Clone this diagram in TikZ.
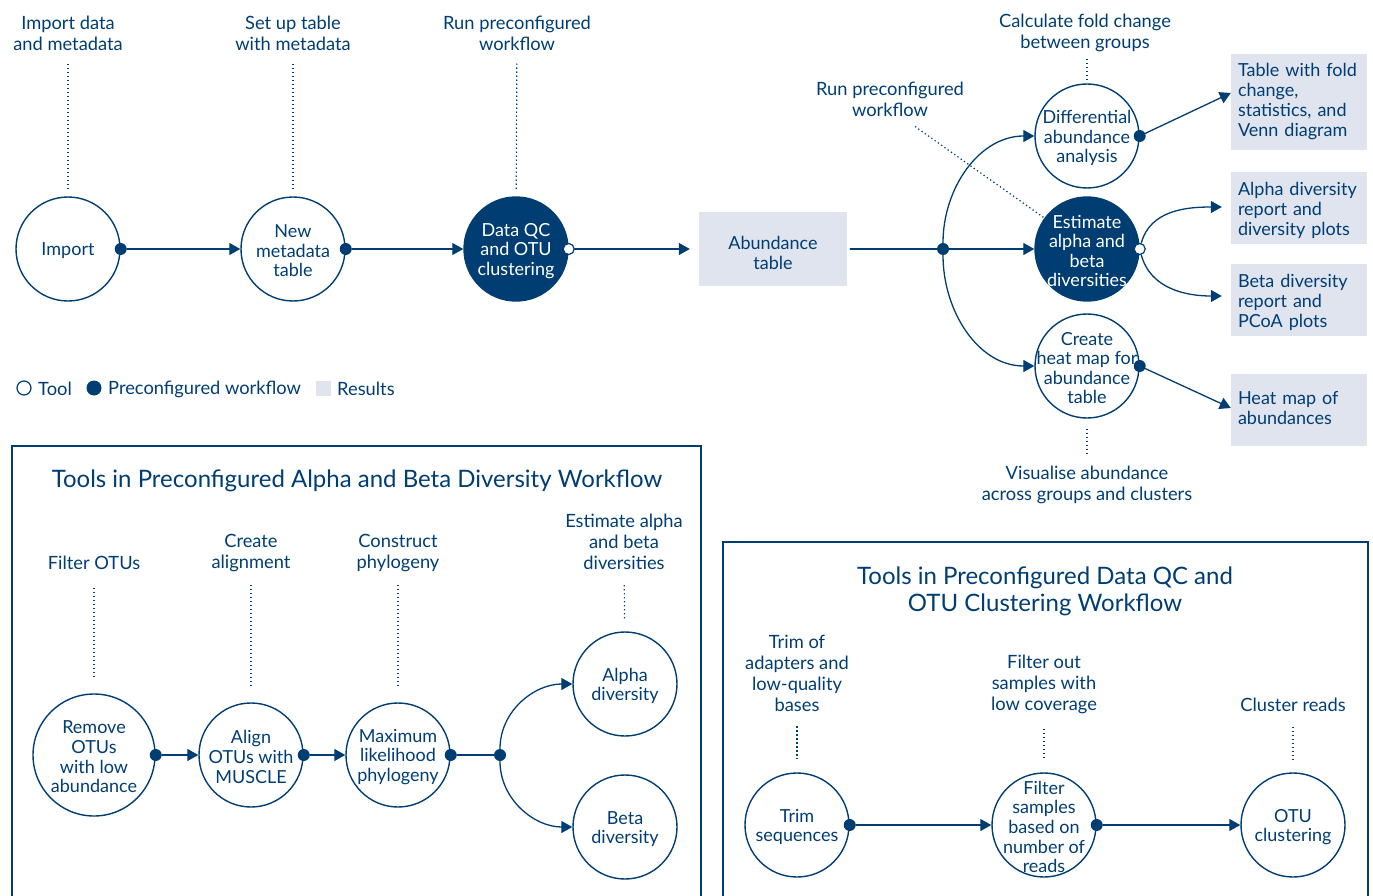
\documentclass[tikz,border=0pt]{standalone}
\usepackage{fontspec}
\setmainfont{Lato}
\usetikzlibrary{arrows.meta}

\definecolor{navy}{HTML}{003D73}
\definecolor{resultgrey}{HTML}{E0E4EF}

\newcommand{\lblfont}{\fontsize{18}{19.6}\selectfont}
\newcommand{\captionfont}{\fontsize{18.3}{21}\selectfont}
\newcommand{\titlefont}{\fontsize{24}{27}\selectfont}

\tikzset{
  tooltext/.style={align=center, font=\lblfont, text=navy, inner sep=0pt, yshift=-2pt},
  tool/.style={circle, draw=navy, line width=1.4pt, minimum size=104pt, inner sep=0pt,
    label={[tooltext]center:#1}},
  workflow/.style={circle, draw=navy, fill=navy, line width=1.4pt, minimum size=104pt, inner sep=0pt,
    label={[tooltext, text=white]center:#1}},
  outdot/.style={circle, fill=navy, minimum size=12pt, inner sep=0pt},
  opendot/.style={circle, draw=navy, fill=white, line width=1.2pt, minimum size=11pt, inner sep=0pt},
  result/.style={fill=resultgrey, text=navy, font=\fontsize{18}{20}\selectfont, align=left,
    text width=122pt, inner xsep=7pt, inner ysep=0pt},
  caption/.style={align=center, font=\captionfont, text=navy, inner sep=1pt},
  heading/.style={align=center, font=\titlefont, text=navy, inner sep=1pt},
  link/.style={draw=navy, line width=1.3pt},
  flow/.style={link, -{Triangle[length=11pt, width=12pt]}},
  guide/.style={draw=navy, line width=1.2pt, dash pattern=on 1.3pt off 2.7pt, line cap=butt,
    shorten <=14pt, shorten >=13pt},
  panel/.style={draw=navy, line width=1.2pt},
}

\begin{document}
\begin{tikzpicture}[x=1pt, y=-1pt, line cap=round]
  \useasboundingbox (0,0) rectangle (1373,896);

  % import, metadata, QC
  \node[tool=Import] (import) at (68,249) {};
  \node[tool={New\\metadata\\table}] (newmeta) at (293,249) {};
  \node[workflow={Data QC\\and OTU\\clustering}] (dataqc) at (516,249) {};
  \node[outdot] (importdot) at (import.east) {};
  \node[outdot] (newmetadot) at (newmeta.east) {};
  \node[opendot] (dataqcdot) at (dataqc.east) {};
  \draw[flow] (importdot) -- (newmeta);
  \draw[flow] (newmetadot) -- (dataqc);

  \node[result, text width=134pt, align=center, minimum height=74pt, text depth=12pt] (abund) at (773,249) {Abundance\\table};
  \draw[flow, shorten >=9pt] (dataqcdot) -- (abund);

  % downstream analyses
  \node[tool={Differential\\abundance\\analysis}] (diff) at (1087,136) {};
  \node[workflow={Estimate\\alpha and\\beta\\diversities}] (estimate) at (1087,249) {};
  \node[tool={Create\\heat map for\\abundance\\table}] (heat) at (1087,366) {};
  \node[outdot] (split) at (943,249) {};
  \node[outdot] (diffdot) at (diff.east) {};
  \node[opendot] (estdot) at (estimate.east) {};
  \node[outdot] (heatdot) at (heat.east) {};
  \draw[link, shorten <=3pt] (abund) -- (split);
  \draw[flow] (split) -- (estimate);
  \draw[flow] (split) to[out=90, in=180] (diff.west);
  \draw[flow] (split) to[out=-90, in=180] (heat.west);

  % results
  \node[result, minimum height=96pt] (foldres) at (1299,102) {Table with fold\\change,\\statistics, and\\Venn diagram};
  \node[result, minimum height=72pt, text depth=38.5pt] (alphares) at (1299,208) {Alpha diversity\\report and\\diversity plots};
  \node[result, minimum height=72pt, text depth=38.5pt] (betares) at (1299,300) {Beta diversity\\report and\\PCoA plots};
  \node[result, minimum height=72pt, text depth=24pt] (heatres) at (1299,410) {Heat map of\\abundances};
  \draw[flow] (diffdot) -- ([yshift=9pt]foldres.west);
  \draw[flow] (estdot) to[out=75, in=180] ([xshift=-9pt, yshift=1pt]alphares.west);
  \draw[flow] (estdot) to[out=-75, in=180] ([xshift=-9pt, yshift=4pt]betares.west);
  \draw[flow] (heatdot) -- ([yshift=2pt]heatres.west);

  % step captions
  \node[caption] (lblimport) at (68,33) {Import data\\and metadata};
  \node[caption] (lblmeta) at (293,33) {Set up table\\with metadata};
  \node[caption] (lblqc) at (517,33) {Run preconfigured\\workflow};
  \node[caption] (lblfold) at (1085,33) {Calculate fold change\\between groups};
  \node[caption] (lblest) at (890,99) {Run preconfigured\\workflow};
  \node[caption] (lblvis) at (1087,485) {Visualise abundance\\across groups and clusters};
  \draw[guide, shorten <=12pt, shorten >=7pt] (lblimport) -- (import);
  \draw[guide, shorten <=12pt, shorten >=7pt] (lblmeta) -- (newmeta);
  \draw[guide, shorten <=12pt, shorten >=7pt] (lblqc) -- (dataqc);
  \draw[guide, shorten <=6pt, shorten >=4pt] (diff.north |- lblfold.south) -- (diff);
  \draw[guide, shorten <=0pt, shorten >=0pt] ([xshift=25pt, yshift=-9pt]lblest.south) -- (estimate.144);
  \draw[guide, shorten <=10pt, shorten >=10pt] (heat) -- (lblvis);

  % legend
  \node[opendot, minimum size=14pt] (legtool) at (24,388) {};
  \node[caption, anchor=west] (legtooltext) at (37,389) {Tool};
  \node[outdot, minimum size=15pt] (legwf) at (94,388) {};
  \node[caption, anchor=west] (legwftext) at (107,389) {Preconfigured workflow};
  \node[fill=resultgrey, minimum size=15pt, inner sep=0pt] (legres) at (323,388) {};
  \node[caption, anchor=west] (legrestext) at (336,389) {Results};

  % alpha and beta diversity panel
  \draw[panel] (12,896) |- (701,446) -- (701,896);
  \node[heading] (alphahead) at (357,481) {Tools in Preconfigured Alpha and Beta Diversity Workflow};
  \node[tool={Remove\\OTUs\\with low\\abundance}, minimum size=122pt] (remove) at (94,755) {};
  \node[tool={Align\\OTUs with\\MUSCLE}] (align) at (251,755) {};
  \node[tool={Maximum\\likelihood\\phylogeny}] (maxlik) at (398,755) {};
  \node[tool={Alpha\\diversity}] (alphadiv) at (625,684) {};
  \node[tool={Beta\\diversity}] (betadiv) at (625,827) {};
  \node[outdot] (removedot) at (remove.east) {};
  \node[outdot] (aligndot) at (align.east) {};
  \node[outdot] (maxlikdot) at (maxlik.east) {};
  \node[outdot] (branch) at (500,755) {};
  \draw[flow] (removedot) -- (align);
  \draw[flow] (aligndot) -- (maxlik);
  \draw[link] (maxlikdot) -- (branch);
  \draw[flow] (branch) to[out=90, in=180] (alphadiv.west);
  \draw[flow] (branch) to[out=-90, in=180] (betadiv.west);

  \node[caption] (lblfilter) at (94,563) {Filter OTUs};
  \node[caption] (lblalign) at (251,553) {Create\\alignment};
  \node[caption] (lblphylo) at (398,553) {Construct\\phylogeny};
  \node[caption] (lbldiv) at (624,542) {Estimate alpha\\and beta\\diversities};
  \draw[guide, shorten <=17pt, shorten >=14pt] (lblfilter) -- (remove);
  \draw[guide, shorten <=12pt, shorten >=15pt] (lblalign) -- (align);
  \draw[guide, shorten <=12pt, shorten >=15pt] (lblphylo) -- (maxlik);
  \draw[guide, shorten <=14pt, shorten >=12pt] (lbldiv) -- (alphadiv);

  % data QC and OTU clustering panel
  \draw[panel] (723,896) |- (1368,542) -- (1368,896);
  \node[heading] (qchead) at (1045,591) {Tools in Preconfigured Data QC and\\OTU Clustering Workflow};
  \node[tool={Trim\\sequences}] (trim) at (797,825) {};
  \node[tool={Filter\\samples\\based on\\number of\\reads}] (filter) at (1044,825) {};
  \node[tool={OTU\\clustering}] (otu) at (1293,825) {};
  \node[outdot] (trimdot) at (trim.east) {};
  \node[outdot] (filterdot) at (filter.east) {};
  \draw[flow] (trimdot) -- (filter);
  \draw[flow] (filterdot) -- (otu);

  \node[caption] (lbltrim) at (797,673) {Trim of\\adapters and\\low-quality\\bases};
  \node[caption] (lblcover) at (1044,684) {Filter out\\samples with\\low coverage};
  \node[caption] (lblcluster) at (1293,705) {Cluster reads};
  \draw[guide] (lbltrim) -- (trim);
  \draw[guide] (lblcover) -- (filter);
  \draw[guide] (lblcluster) -- (otu);
\end{tikzpicture}
\end{document}
